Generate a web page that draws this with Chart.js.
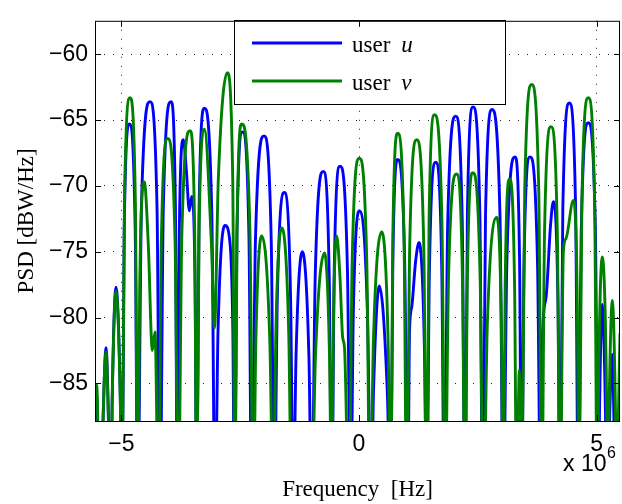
<!DOCTYPE html>
<html>
<head>
<meta charset="utf-8">
<script src="https://cdn.jsdelivr.net/npm/chart.js@4.4.1/dist/chart.umd.min.js"></script>
<style>
  html, body { margin: 0; padding: 0; background: #fff; }
  canvas { display: block; }
</style>
</head>
<body>
<canvas id="psdChart" width="622" height="504"></canvas>
<script>
// frequency in units of 1e6 Hz, PSD in dBW/Hz (-95 = deep null, below the axis)
// one line per spectral lobe, freq and psd lines kept aligned
const xTicks = [-5, 0, 5];
const yTicks = [-85, -80, -75, -70, -65, -60];

const userUFreq = [
    -5.556, -5.524, -5.465,
    -5.440, -5.405, -5.324, -5.255,
    -5.225, -5.192, -5.114, -5.025,
    -4.987, -4.941, -4.834, -4.710,
    -4.657, -4.579, -4.398, -4.251,
    -4.188, -4.118, -3.956, -3.864,
    -3.824, -3.786, -3.697, -3.634, -3.571, -3.521, -3.450,
    -3.415, -3.367, -3.255, -3.098,
    -3.030, -2.967, -2.820, -2.725, -2.655,
    -2.620, -2.570, -2.452, -2.316,
    -2.258, -2.180, -1.999, -1.847,
    -1.782, -1.719, -1.572, -1.440,
    -1.383, -1.326, -1.193, -1.054,
    -0.995, -0.922, -0.751, -0.627,
    -0.574, -0.522, -0.400, -0.243,
    -0.175, -0.121, 0.006, 0.179,
    0.253, 0.305, 0.427, 0.595,
    0.667, 0.711, 0.814, 0.962,
    1.025, 1.063, 1.109, 1.189, 1.263, 1.376,
    1.425, 1.482, 1.614, 1.741,
    1.795, 1.867, 2.035, 2.172,
    2.231, 2.281, 2.399, 2.542,
    2.603, 2.662, 2.799, 2.966,
    3.037, 3.111, 3.283, 3.379,
    3.420, 3.473, 3.598, 3.756,
    3.824, 3.860, 3.935, 4.030, 4.089, 4.188,
    4.230, 4.289, 4.426, 4.558,
    4.615, 4.678, 4.825, 4.973,
    5.036, 5.061, 5.120, 5.185,
    5.213, 5.248, 5.330, 5.378,
    5.398, 5.492
];
const userUPsd = [
    -86.5, -85.8, -93.8,
    -95, -90.3, -82.3, -90.3,
    -95, -85.7, -77.7, -85.7,
    -95, -73.3, -65.3, -73.3,
    -95, -71.6, -63.6, -71.6,
    -95, -71.6, -63.6, -71.6,
    -95, -74.5, -66.5, -68.8, -71.9, -70.8, -77.5,
    -95, -72.1, -64.1, -72.1,
    -95, -81.0, -73.0, -74.0, -81.0,
    -95, -73.9, -65.9, -73.9,
    -95, -74.2, -66.2, -74.2,
    -95, -78.5, -70.5, -78.5,
    -95, -83.0, -75.0, -83.0,
    -95, -76.9, -68.9, -76.9,
    -95, -76.5, -68.5, -76.5,
    -95, -79.9, -71.9, -79.9,
    -95, -85.6, -77.6, -85.6,
    -95, -76.0, -68.0, -76.0,
    -95, -81.0, -79.2, -75.8, -74.3, -82.3,
    -95, -76.2, -68.2, -76.2,
    -95, -72.7, -64.7, -72.7,
    -95, -72.0, -64.0, -72.0,
    -95, -72.2, -64.2, -72.2,
    -95, -75.8, -67.8, -75.8,
    -95, -75.8, -67.8, -75.8,
    -95, -81.5, -78.5, -73.0, -71.2, -79.2,
    -95, -71.7, -63.7, -71.7,
    -95, -73.2, -65.2, -73.2,
    -95, -87.0, -79.0, -87.0,
    -95, -90.8, -82.8, -90.8,
    -95, -92.0
];

const userVFreq = [
    -5.556, -5.520, -5.471,
    -5.450, -5.412, -5.324, -5.255,
    -5.225, -5.192, -5.114, -5.025,
    -4.987, -4.937, -4.819, -4.706,
    -4.657, -4.615, -4.518, -4.434, -4.350, -4.293,
    -4.219, -4.161, -4.026, -3.870,
    -3.803, -3.729, -3.556, -3.457,
    -3.415, -3.367, -3.255, -3.105,
    -3.041, -2.960, -2.771, -2.658,
    -2.609, -2.567, -2.468, -2.297,
    -2.224, -2.171, -2.048, -1.877,
    -1.803, -1.750, -1.627, -1.479,
    -1.416,
    -1.000, -0.918, -0.726, -0.620,
    -0.574, -0.543, -0.469, -0.400, -0.345, -0.305,
    -0.210, -0.145, 0.006, 0.164,
    0.231, 0.305, 0.478, 0.610,
    0.667, 0.711, 0.814, 0.947,
    1.004, 1.067, 1.214, 1.362,
    1.425, 1.474, 1.589, 1.744,
    1.810, 1.883, 2.052, 2.177,
    2.231, 2.280, 2.393, 2.549,
    2.616, 2.701, 2.898, 2.995,
    3.037, 3.076, 3.167, 3.273,
    3.319, 3.335, 3.373, 3.408,
    3.424, 3.487, 3.634, 3.782,
    3.845, 3.904, 4.040, 4.173,
    4.230, 4.300, 4.356, 4.510, 4.594,
    4.630, 4.689, 4.825, 4.958,
    5.015, 5.047, 5.120, 5.200,
    5.234, 5.263, 5.330, 5.395,
    5.423, 5.450, 5.492
];
const userVPsd = [
    -86.5, -85.1, -93.1,
    -95, -90.6, -82.6, -90.6,
    -95, -86.0, -78.0, -86.0,
    -95, -71.3, -63.3, -71.3,
    -95, -77.7, -69.7, -74.5, -82.5, -81.1,
    -95, -74.4, -66.4, -74.4,
    -95, -73.8, -65.8, -73.8,
    -95, -73.7, -65.7, -74.5,
    -80.8, -69.4, -61.4, -69.4,
    -95, -73.3, -65.3, -73.3,
    -95, -81.8, -73.8, -81.8,
    -95, -81.2, -73.2, -81.2,
    -95,
    -95, -83.1, -75.1, -83.1,
    -95, -81.8, -73.8, -77.0, -81.5, -82.3,
    -95, -75.9, -67.9, -75.9,
    -95, -81.5, -73.5, -81.5,
    -95, -74.0, -66.0, -74.0,
    -95, -74.5, -66.5, -74.5,
    -95, -72.6, -64.6, -72.6,
    -95, -77.1, -69.1, -77.1,
    -95, -77.0, -69.0, -77.0,
    -95, -80.4, -72.4, -80.4,
    -95, -77.5, -69.5, -77.5,
    -95, -92.0, -84.0, -92.0,
    -95, -70.3, -62.3, -70.3,
    -95, -73.5, -65.5, -73.5,
    -95, -75.0, -74.0, -71.1, -79.1,
    -95, -71.3, -63.3, -71.3,
    -95, -83.4, -75.4, -83.4,
    -95, -86.7, -78.7, -86.7,
    -95, -89.0, -81.2
];

const SERIF = "'Liberation Serif', 'Times New Roman', serif";
const SANS = "'Liberation Sans', Arial, Helvetica, sans-serif";

function toPoints(freq, psd) {
    return freq.map((f, i) => ({ x: f, y: psd[i] }));
}

function minusSign(v) {
    return String(v).replace('-', '\u2212');
}

// box, inward ticks, legend and the exponent label, drawn on top like MATLAB does
const matlabFrame = {
    id: 'matlabFrame',
    afterDraw(chart) {
        const ctx = chart.ctx;
        const a = chart.chartArea;
        const xs = chart.scales.x;
        const ys = chart.scales.y;
        ctx.save();

        // legend
        const lx = 234.5, ly = 20.5, lw = 271, lh = 84;
        ctx.fillStyle = '#fff';
        ctx.fillRect(lx, ly, lw, lh);
        ctx.strokeStyle = '#000';
        ctx.lineWidth = 1;
        ctx.strokeRect(lx, ly, lw, lh);

        const rows = [
            { color: '#0000ff', sym: 'u', y: 43 },
            { color: '#008000', sym: 'v', y: 81 }
        ];
        rows.forEach(r => {
            ctx.strokeStyle = r.color;
            ctx.lineWidth = 2.8;
            ctx.beginPath();
            ctx.moveTo(252, r.y);
            ctx.lineTo(342, r.y);
            ctx.stroke();
            ctx.fillStyle = '#000';
            ctx.textBaseline = 'alphabetic';
            ctx.font = '23px ' + SERIF;
            ctx.fillText('user', 352, r.y + 9);
            const w = ctx.measureText('user').width;
            ctx.font = 'italic 23px ' + SERIF;
            ctx.fillText(r.sym, 352 + w + 11, r.y + 9);
        });

        // axes box
        ctx.strokeStyle = '#000';
        ctx.lineWidth = 1;
        ctx.strokeRect(a.left + 0.5, a.top + 0.5, a.right - a.left - 1, a.bottom - a.top);

        // inward tick marks on all four sides
        ctx.beginPath();
        xTicks.forEach(v => {
            const px = Math.round(xs.getPixelForValue(v)) + 0.5;
            ctx.moveTo(px, a.bottom);
            ctx.lineTo(px, a.bottom - 6);
            ctx.moveTo(px, a.top);
            ctx.lineTo(px, a.top + 6);
        });
        yTicks.forEach(v => {
            const py = Math.round(ys.getPixelForValue(v)) + 0.5;
            ctx.moveTo(a.left, py);
            ctx.lineTo(a.left + 6, py);
            ctx.moveTo(a.right, py);
            ctx.lineTo(a.right - 6, py);
        });
        ctx.stroke();

        // x 10^6
        ctx.fillStyle = '#000';
        ctx.textBaseline = 'alphabetic';
        ctx.font = '23px ' + SANS;
        ctx.fillText('x 10', 563, 471);
        ctx.font = '16px ' + SANS;
        ctx.fillText('6', 607, 458);

        ctx.restore();
    }
};

const ctx = document.getElementById('psdChart').getContext('2d');

new Chart(ctx, {
    type: 'line',
    data: {
        datasets: [{
            label: 'user u',
            data: toPoints(userUFreq, userUPsd),
            borderColor: '#0000ff',
            borderWidth: 2.9,
            pointRadius: 0,
            cubicInterpolationMode: 'monotone',
            clip: 0,
            order: 2
        }, {
            label: 'user v',
            data: toPoints(userVFreq, userVPsd),
            borderColor: '#008000',
            borderWidth: 2.9,
            pointRadius: 0,
            cubicInterpolationMode: 'monotone',
            clip: 0,
            order: 1
        }]
    },
    options: {
        responsive: false,
        animation: false,
        layout: { padding: { top: 10, right: 2, left: 0, bottom: 0 } },
        plugins: {
            legend: { display: false },
            tooltip: { enabled: false }
        },
        scales: {
            x: {
                type: 'linear',
                min: -5.556,
                max: 5.492,
                afterBuildTicks: s => { s.ticks = xTicks.map(v => ({ value: v })); },
                afterFit: s => { s.height = 83; },
                grid: { color: '#222', lineWidth: 1, drawTicks: false },
                border: { display: false, dash: [1, 8] },
                ticks: {
                    color: '#000',
                    padding: 10,
                    maxRotation: 0,
                    font: { family: SANS, size: 23 },
                    callback: v => minusSign(v)
                },
                title: {
                    display: true,
                    text: 'Frequency\u2002[Hz]',
                    color: '#000',
                    font: { family: SERIF, size: 23 },
                    padding: { top: 0, bottom: 0 }
                }
            },
            y: {
                min: -87.86,
                max: -57.46,
                afterBuildTicks: s => { s.ticks = yTicks.map(v => ({ value: v })); },
                afterFit: s => { s.width = 95; },
                grid: { color: '#222', lineWidth: 1, drawTicks: false },
                border: { display: false, dash: [1, 8] },
                ticks: {
                    color: '#000',
                    padding: 7,
                    font: { family: SANS, size: 23 },
                    callback: v => minusSign(v)
                },
                title: {
                    display: true,
                    text: 'PSD [dBW/Hz]',
                    color: '#000',
                    font: { family: SERIF, size: 23 },
                    padding: { top: 13, bottom: 0 }
                }
            }
        }
    },
    plugins: [matlabFrame]
});
</script>
</body>
</html>
